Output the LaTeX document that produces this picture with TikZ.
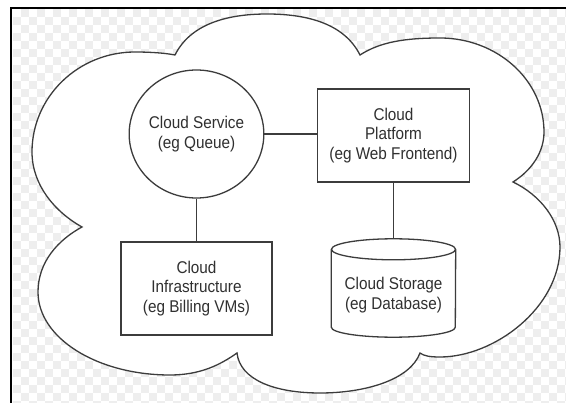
\documentclass[tikz,border=0pt]{standalone}
\usepackage{fontspec}
\setmainfont{Liberation Sans}
\newfontfamily\cloudfont[FakeStretch=0.9]{Liberation Sans}
\usetikzlibrary{shapes.geometric, calc}
\definecolor{inkgray}{HTML}{3C3C3C}
\definecolor{txtgray}{HTML}{303030}
\definecolor{checkgray}{HTML}{EEEEEE}
\tikzset{
	part/.style={draw=inkgray, line width=1.3pt, fill=white, text=txtgray, align=center, inner sep=0pt, font=\cloudfont\fontsize{17}{19.5}\selectfont},
	box/.style={part, rectangle, minimum width=152pt, minimum height=93pt},
	link/.style={draw=inkgray, line width=1.3pt},
}

\begin{document}
\begin{tikzpicture}[x=1pt, y=-1pt]
	\useasboundingbox (0,0) rectangle (566,403);
	\begin{scope}
		\clip (12.5,9.5) rectangle (566,403);
		\foreach \i in {0,...,69} {
			\foreach \j in {0,...,49} {
				\ifodd\numexpr\i+\j\relax \fill[checkgray] ({12.5+8*\i},{9.5+8*\j}) rectangle ++(8,8); \fi
			}
		}
	\end{scope}
	\draw[black, line width=2.5pt] (11.2,403) -- (11.2,8) -- (566,8);
	\draw[link, fill=white] (175,55)
		.. controls (190,25) and (225,14) .. (267,14)
		.. controls (310,14) and (345,25) .. (360,55)
		.. controls (380,42) and (405,38) .. (440,38)
		.. controls (497,38) and (544,80) .. (544,132)
		.. controls (544,152) and (532,170) .. (513,182)
		.. controls (540,195) and (560,220) .. (560,247)
		.. controls (560,308) and (494,357) .. (440,357)
		.. controls (430,357) and (424,356) .. (420,353)
		.. controls (410,380) and (365,393) .. (320,393)
		.. controls (275,393) and (240,380) .. (237,353)
		.. controls (220,365) and (200,375) .. (170,375)
		.. controls (97,375) and (38,338) .. (38,292)
		.. controls (38,262) and (58,240) .. (82,227)
		.. controls (55,212) and (32,185) .. (32,152)
		.. controls (32,97) and (78,52) .. (135,52)
		.. controls (150,52) and (165,53) .. (175,55) -- cycle;
	\node[part, ellipse, minimum width=123pt, minimum height=128pt] (service) at (196.5,134) {Cloud Service\\(eg Queue)};
	\node[box] (platform) at (393.5,135.5) {Cloud\\Platform\\(eg Web Frontend)};
	\node[box, minimum width=151pt] (infra) at (196.5,288.5) {Cloud\\Infrastructure\\(eg Billing VMs)};
	\node[minimum width=124pt, minimum height=98pt, inner sep=0pt] (store) at (393.5,288) {};
	\coordinate (capT) at ($(store.north)+(0,10.5)$);
	\coordinate (capB) at ($(store.south)+(0,-10)$);
	\draw[link, fill=white] (store.west |- capT) -- (store.west |- capB) arc[start angle=180, end angle=360, x radius=62pt, y radius=10pt] -- (store.east |- capT);
	\draw[link, fill=white] (capT) ellipse[x radius=62pt, y radius=10.5pt];
	\node[text=txtgray, align=center, inner sep=0pt, font=\cloudfont\fontsize{17}{19.5}\selectfont] (storetext) at ($(store.center)+(0,7)$) {Cloud Storage\\(eg Database)};
	\draw[link] (service.east) -- (service.east -| platform.west);
	\draw[link] (service.south) -- (infra.north);
	\draw[link] (platform.south) -- (store.north);
\end{tikzpicture}
\end{document}
